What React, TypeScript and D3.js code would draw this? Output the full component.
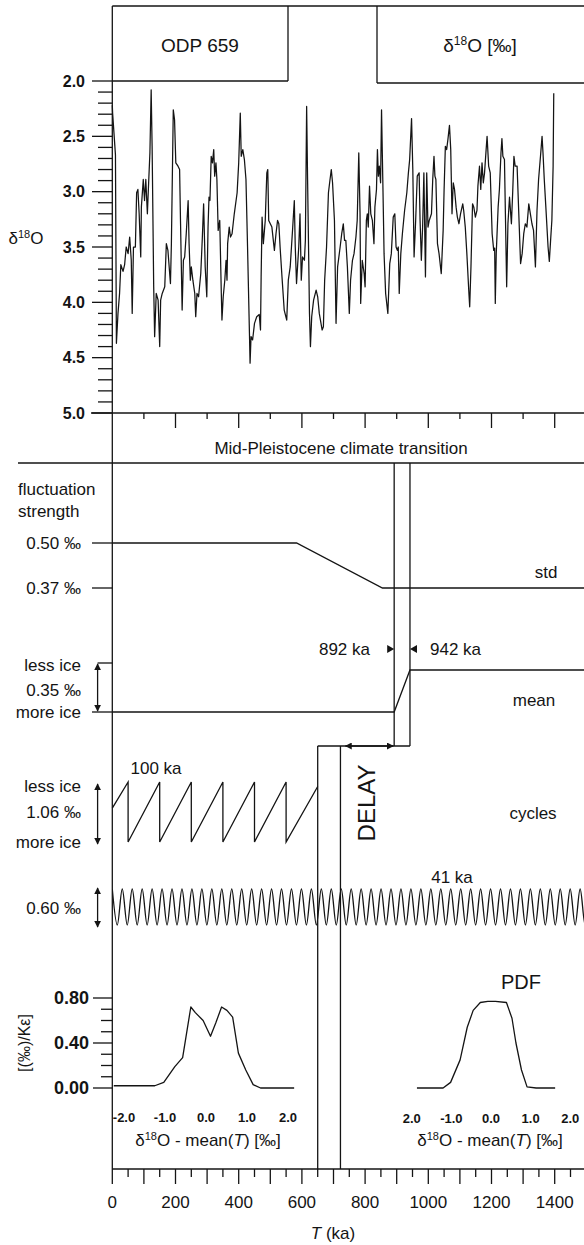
import React from "react";
import * as d3 from "d3";

const FONT = "'Liberation Sans', Arial, Helvetica, sans-serif";
const INK = "#141414";

// ---- ODP 659 δ18O record (T in ka, δ18O in ‰) ----
const ODP_T_A = [0,1,10,13,18,23,27,34,39,44,50,55,60,63,67,73,77,81,85,90,92,98,102,106,111,115,119,123,126,131,134,139,145,150,153,158,166,171,176,184,187,193,197,201,208,213,216,221,225,229,234,240,243,247,250,255,261,264,268,273,280,285,289,294,299,303,306,309,313,317,321,324,328,331,335,340,345,347,351,356,360];
const ODP_V_A = [2.22,2.29,2.67,4.37,4.10,3.92,3.66,3.72,3.66,3.50,3.56,3.41,3.62,4.10,3.50,3.50,3.01,2.98,3.20,3.59,3.14,2.89,3.08,2.89,3.20,2.92,2.65,2.08,2.59,3.86,4.31,3.92,3.98,4.40,3.98,3.92,3.86,3.47,3.53,3.83,3.47,2.26,2.35,2.74,2.77,2.80,3.29,4.07,3.62,3.59,3.38,3.08,3.47,3.80,3.68,3.80,3.92,4.13,3.92,3.95,3.74,3.41,3.11,3.68,3.95,3.32,3.05,3.08,2.68,2.74,2.62,2.86,2.74,2.89,3.35,3.26,3.92,4.16,3.95,3.80,3.62];
const ODP_T_B = [363,365,370,374,379,386,395,400,405,408,413,418,423,428,434,436,439,444,450,457,465,469,471,474,478,484,489,492,495,500,505,513,518,523,527,531,537,544,552,557,563,571,576,579,583,590,594,598,602,608,611,615,618,624,627,631,637,645,650,655,664,668,672,678,684,689,693,697,703,708,713,721,726,731,735];
const ODP_V_B = [3.80,3.47,3.32,3.41,3.38,3.20,3.01,2.74,2.29,2.68,2.62,2.71,2.89,3.50,4.28,4.55,4.31,4.34,4.19,4.13,4.11,4.25,3.77,3.23,3.47,3.26,2.83,2.80,3.26,3.29,3.32,3.53,3.38,3.26,3.29,3.50,3.77,4.07,4.16,3.80,3.68,3.32,3.08,3.50,3.83,3.50,3.20,3.80,3.59,3.62,3.44,2.23,2.89,4.10,4.40,4.13,3.98,3.89,3.95,4.10,4.25,4.22,3.80,3.50,3.01,2.89,2.80,2.92,3.26,4.19,3.68,3.50,3.38,3.29,3.44];
const ODP_T_C = [739,744,750,754,760,765,771,775,780,784,786,791,797,800,804,807,810,814,818,823,828,831,836,839,842,845,849,852,856,860,865,872,878,883,889,894,898,902,905,908,913,918,925,932,937,941,947,951,955,960,965,971,974,978,982,986,991,995,999,1003,1010,1014,1018,1021,1024,1029,1034,1041,1047,1050,1054,1058,1062,1067,1071,1075,1079,1083,1088,1092,1097,1102,1109];
const ODP_V_C = [3.44,3.68,4.10,3.80,3.62,3.56,3.41,3.26,2.65,3.20,4.01,3.62,3.74,3.86,3.26,3.20,3.32,2.95,3.20,3.26,3.47,3.14,2.98,2.62,2.86,2.77,2.92,2.26,2.89,3.56,3.92,4.10,3.65,3.56,3.23,3.20,3.50,3.53,3.50,3.92,3.56,3.38,3.17,3.01,2.83,2.71,2.34,2.80,3.59,3.26,2.86,2.83,3.26,3.62,3.32,2.83,3.77,2.83,3.32,3.26,3.20,2.89,2.68,2.86,2.89,3.47,3.56,3.74,3.35,2.98,2.59,2.62,2.53,2.40,2.62,3.20,2.92,2.98,3.14,3.23,3.29,3.20,3.11];
const ODP_T_D = [1112,1117,1122,1128,1131,1135,1140,1144,1149,1154,1157,1162,1166,1170,1174,1178,1183,1186,1191,1196,1202,1207,1210,1212,1215,1221,1225,1230,1233,1236,1241,1244,1248,1252,1257,1263,1267,1271,1275,1281,1286,1292,1297,1302,1307,1312,1318,1323,1328,1333,1339,1344,1349,1355,1360,1363,1367,1372,1379,1383,1387,1391,1395,1397];
const ODP_V_D = [3.17,3.32,3.56,3.89,4.04,3.68,3.11,3.14,3.23,3.17,2.95,2.77,2.98,2.74,2.92,2.83,2.62,2.50,2.77,2.83,3.38,3.53,3.51,4.01,3.56,3.14,2.98,2.65,2.52,2.68,2.71,3.20,3.86,3.29,3.05,3.29,3.01,2.68,2.77,2.77,3.17,3.65,3.56,3.38,3.29,3.32,3.11,3.20,3.29,3.35,3.68,3.17,2.89,2.68,2.50,2.65,2.89,3.14,3.50,3.63,3.44,3.26,2.77,2.11];

// ---- schematic components ----
const MPT_START = 892;
const MPT_END = 942;
const CYCLES_END = 650;
const CYCLES_GAP_END = 722;

const STD_T = [0, 583, 855, 1500];
const STD_V = [0.50, 0.50, 0.37, 0.37];

const MEAN_T = [0, 892, 942, 1500];
const MEAN_V = [0, 0, 0.30, 0.30];

const CYCLE_T = [0, 50, 50, 150, 150, 250, 250, 350, 350, 450, 450, 550, 550, 650];
const CYCLE_V = [0.60, 1.06, 0, 1.06, 0, 1.06, 0, 1.06, 0, 1.06, 0, 1.06, 0, 0.98];

// crest and trough positions of the drawn oscillation (ka), as they appear on the time axis
const OBL_PEAKS = [0,31.5,63,94.5,126,157.5,189,220.5,252,283.5,315,346.5,378,409.5,441,472.5,504,535.5,567,598.5,630,661.5,693,724.5,756,787.5,819,850.5,882,913.5,945,976.5,1008,1039.5,1071,1102.5,1134,1165.5,1197,1228.5,1260,1291.5,1323,1354.5,1386,1417.5,1449,1480.5,1512];
const OBL_TROUGHS = [15.75,47.25,78.75,110.25,141.75,173.25,204.75,236.25,267.75,299.25,330.75,362.25,393.75,425.25,456.75,488.25,519.75,551.25,582.75,614.25,645.75,677.25,708.75,740.25,771.75,803.25,834.75,866.25,897.75,929.25,960.75,992.25,1023.75,1055.25,1086.75,1118.25,1149.75,1181.25,1212.75,1244.25,1275.75,1307.25,1338.75,1370.25,1401.75,1433.25,1464.75,1496.25];
const OBL_AMP = 0.60;

// ---- PDFs (δ18O − mean(T) in ‰ vs density) ----
const PDF_L_X = [-2.25,-1.25,-1.03,-0.76,-0.57,-0.49,-0.37,-0.26,-0.07,0.11,0.24,0.38,0.51,0.65,0.79,0.97,1.15,1.33,2.15];
const PDF_L_P = [0.02,0.02,0.05,0.19,0.27,0.45,0.72,0.67,0.60,0.46,0.58,0.72,0.69,0.63,0.31,0.16,0.03,0,0];
const PDF_R_X = [-1.87,-1.21,-1.02,-0.78,-0.60,-0.45,-0.27,-0.08,0.11,0.39,0.53,0.63,0.77,0.91,1.14,1.62];
const PDF_R_P = [0,0,0.05,0.25,0.54,0.69,0.76,0.77,0.77,0.76,0.62,0.40,0.16,0.01,0,0];

const TOP_TICK_LABELS = ["2.0", "2.5", "3.0", "3.5", "4.0", "4.5", "5.0"];
const PDF_TICK_LABELS = ["0.00", "0.40", "0.80"];
const PDF_L_TICK_LABELS = ["-2.0", "-1.0", "0.0", "1.0", "2.0"];
const PDF_R_TICK_LABELS = ["2.0", "-1.0", "0.0", "1.0", "2.0"];
const T_TICK_LABELS = ["0", "200", "400", "600", "800", "1000", "1200", "1400"];

const Txt = ({ x, y, s = 17, a = "start", w = "normal", children, ...rest }: any) => (
  <text x={x} y={y} dy="0.35em" fontSize={s} textAnchor={a} fontWeight={w}
        fontFamily={FONT} fill={INK} {...rest}>{children}</text>
);

export default function App() {
  const x = d3.scaleLinear().domain([0, 1500]).range([112.3, 586.3]);
  const yTop = d3.scaleLinear().domain([2, 5]).range([81, 413]);
  const yStd = d3.scaleLinear().domain([0.37, 0.50]).range([588, 543]);
  const yMean = d3.scaleLinear().domain([0, 0.35]).range([712, 663]);
  const yCyc = d3.scaleLinear().domain([0, 1.06]).range([842, 782]);
  const yObl = d3.scaleLinear().domain([-0.30, 0.30]).range([925, 889]);
  const yPdf = d3.scaleLinear().domain([0, 0.8]).range([1088, 998]);
  const xPdfL = d3.scaleLinear().domain([-2, 2]).range([124, 288]);
  const xPdfR = d3.scaleLinear().domain([-2, 2]).range([411.8, 570.2]);

  const X0 = x(0);
  const lineXY = (xs: any, ys: any, curve: any = d3.curveLinear) =>
    d3.line<[number, number]>().x((d) => xs(d[0])).y((d) => ys(d[1])).curve(curve);

  const odp = [
    ...d3.zip(ODP_T_A, ODP_V_A), ...d3.zip(ODP_T_B, ODP_V_B),
    ...d3.zip(ODP_T_C, ODP_V_C), ...d3.zip(ODP_T_D, ODP_V_D),
  ] as [number, number][];

  const obl = [
    ...OBL_PEAKS.map((t) => [t, OBL_AMP / 2] as [number, number]),
    ...OBL_TROUGHS.map((t) => [t, -OBL_AMP / 2] as [number, number]),
  ].sort((a, b) => a[0] - b[0]);

  const topTicks = d3.range(0, 31);
  const topAxisTicks = d3.range(100, 1501, 100);
  const botTicks = d3.range(0, 1451, 50);
  const pdfTicks = d3.range(0, 9);

  const sw = 1.3;
  const arrowX = 97.6;
  const yDelay = 746;

  return (
    <svg width={584} height={1245} viewBox="0 0 584 1245"
         style={{ position: "absolute", left: 0, top: 0, background: "#fff" }}>
      <defs>
        <marker id="ah" viewBox="0 0 10 10" refX="9" refY="5" markerWidth="7" markerHeight="7"
                markerUnits="userSpaceOnUse" orient="auto-start-reverse">
          <path d="M0,0 L10,5 L0,10 z" fill={INK} />
        </marker>
        <clipPath id="plotClip"><rect x={X0} y={0} width={584 - X0} height={1245} /></clipPath>
      </defs>
      <rect x={0} y={0} width={584} height={1245} fill="#fff" />

      <g stroke={INK} strokeWidth={sw} fill="none">
        {/* frame */}
        <line x1={X0} y1={6} x2={X0} y2={1169} />
        <line x1={X0} y1={6} x2={584} y2={6} />
        {/* title boxes */}
        <line x1={288} y1={6} x2={288} y2={81} />
        <line x1={X0} y1={81} x2={288} y2={81} />
        <line x1={377} y1={6} x2={377} y2={83} />
        <line x1={377} y1={83} x2={584} y2={83} />
        {/* top y-axis ticks */}
        {topTicks.map((i) => (
          <line key={"yt" + i} x1={i % 5 === 0 ? 92 : 98} x2={X0}
                y1={yTop(2 + i * 0.1)} y2={yTop(2 + i * 0.1)} />
        ))}
        {/* top panel bottom line and ticks */}
        <line x1={91} y1={413} x2={584} y2={413} />
        {topAxisTicks.map((t) => (
          <line key={"tt" + t} x1={x(t)} x2={x(t)} y1={413} y2={413 + (t % 200 === 0 ? 15 : 6)} />
        ))}
        {/* δ18O record */}
        <path d={lineXY(x, yTop)(odp) || ""} strokeWidth={1.25} strokeLinejoin="round" />

        {/* MPT header line */}
        <line x1={18} y1={463} x2={584} y2={463} />
        {/* MPT column */}
        <line x1={x(MPT_START)} y1={463} x2={x(MPT_START)} y2={yDelay} />
        <line x1={x(MPT_END)} y1={463} x2={x(MPT_END)} y2={yDelay} />
        <line x1={x(CYCLES_END)} y1={yDelay} x2={x(MPT_END)} y2={yDelay} />
        <line x1={x(CYCLES_END)} y1={yDelay} x2={x(CYCLES_END)} y2={1169} />
        <line x1={x(CYCLES_GAP_END)} y1={yDelay} x2={x(CYCLES_GAP_END)} y2={1169} />

        {/* std */}
        <line x1={92} x2={X0} y1={yStd(0.5)} y2={yStd(0.5)} />
        <line x1={92} x2={X0} y1={yStd(0.37)} y2={yStd(0.37)} />
        <path d={lineXY(x, yStd)(d3.zip(STD_T, STD_V) as any) || ""} />

        {/* mean */}
        <line x1={92} x2={X0} y1={yMean(0)} y2={yMean(0)} />
        <line x1={arrowX} x2={X0} y1={yMean(0.35)} y2={yMean(0.35)} />
        <path d={lineXY(x, yMean)(d3.zip(MEAN_T, MEAN_V) as any) || ""} />
        <line x1={arrowX} x2={arrowX} y1={yMean(0.35) + 1} y2={yMean(0) - 1}
              markerStart="url(#ah)" markerEnd="url(#ah)" />

        {/* DELAY arrow */}
        <line x1={x(CYCLES_GAP_END) + 5} x2={x(MPT_START) - 1} y1={yDelay} y2={yDelay}
              markerStart="url(#ah)" markerEnd="url(#ah)" />

        {/* 100 ka cycles */}
        <path d={lineXY(x, yCyc)(d3.zip(CYCLE_T, CYCLE_V) as any) || ""} />
        <line x1={arrowX} x2={arrowX} y1={yCyc(1.06) + 2} y2={yCyc(0) + 2}
              markerStart="url(#ah)" markerEnd="url(#ah)" />

        {/* 41 ka cycles */}
        <path d={lineXY(x, yObl, d3.curveMonotoneX)(obl) || ""} clipPath="url(#plotClip)" />
        <line x1={arrowX} x2={arrowX} y1={yObl(0.3) - 1} y2={yObl(-0.3) + 2}
              markerStart="url(#ah)" markerEnd="url(#ah)" />

        {/* PDF axis ticks */}
        {pdfTicks.map((i) => (
          <line key={"pt" + i} x1={i % 4 === 0 ? 93 : 101} x2={X0}
                y1={yPdf(i * 0.1)} y2={yPdf(i * 0.1)} />
        ))}
        <path d={lineXY(xPdfL, yPdf)(d3.zip(PDF_L_X, PDF_L_P) as any) || ""} strokeLinejoin="round" />
        <path d={lineXY(xPdfR, yPdf)(d3.zip(PDF_R_X, PDF_R_P) as any) || ""} strokeLinejoin="round" />

        {/* bottom axis */}
        <line x1={X0} y1={1169} x2={584} y2={1169} />
        {botTicks.map((t) => (
          <line key={"bt" + t} x1={x(t)} x2={x(t)} y1={1169} y2={1169 + (t % 100 === 0 ? 15 : 8)} />
        ))}
      </g>

      {/* pointer triangles 892 / 942 */}
      <path d={`M${x(MPT_START) - 7},${645} L${x(MPT_START)},${649} L${x(MPT_START) - 7},${653} Z`} fill={INK} />
      <path d={`M${x(MPT_END) + 7},${645} L${x(MPT_END)},${649} L${x(MPT_END) + 7},${653} Z`} fill={INK} />

      {/* texts */}
      <Txt x={200} y={45} s={19} a="middle">ODP 659</Txt>
      <Txt x={480} y={45} s={19} a="middle">
        δ<tspan fontSize={12} dy={-7}>18</tspan><tspan dy={7}>O [‰]</tspan>
      </Txt>
      {TOP_TICK_LABELS.map((l) => (
        <Txt key={l} x={85} y={yTop(+l)} s={16} a="end" w="bold">{l}</Txt>
      ))}
      <Txt x={26} y={238} s={17} a="middle">
        δ<tspan fontSize={11} dy={-6}>18</tspan><tspan dy={6}>O</tspan>
      </Txt>

      <Txt x={341} y={448} s={17} a="middle">Mid-Pleistocene climate transition</Txt>
      <Txt x={18} y={489} s={17}>fluctuation</Txt>
      <Txt x={18} y={511} s={17}>strength</Txt>
      <Txt x={81} y={yStd(0.5)} s={17} a="end">0.50 ‰</Txt>
      <Txt x={81} y={yStd(0.37)} s={17} a="end">0.37 ‰</Txt>
      <Txt x={546} y={572} s={17} a="middle">std</Txt>

      <Txt x={370} y={649} s={17} a="end">892 ka</Txt>
      <Txt x={430} y={649} s={17}>942 ka</Txt>
      <Txt x={81} y={665} s={17} a="end">less ice</Txt>
      <Txt x={81} y={690} s={17} a="end">0.35 ‰</Txt>
      <Txt x={81} y={712} s={17} a="end">more ice</Txt>
      <Txt x={534} y={700} s={17} a="middle">mean</Txt>

      <Txt x={156} y={768} s={17} a="middle">100 ka</Txt>
      <Txt x={81} y={786} s={17} a="end">less ice</Txt>
      <Txt x={81} y={812} s={17} a="end">1.06 ‰</Txt>
      <Txt x={81} y={842} s={17} a="end">more ice</Txt>
      <Txt x={533} y={813} s={17} a="middle">cycles</Txt>
      <Txt x={0} y={0} s={24} a="middle" transform="translate(367,803) rotate(-90)">DELAY</Txt>

      <Txt x={452} y={877} s={17} a="middle">41 ka</Txt>
      <Txt x={81} y={908} s={17} a="end">0.60 ‰</Txt>

      <Txt x={521} y={982} s={20} a="middle">PDF</Txt>
      {PDF_TICK_LABELS.map((l) => (
        <Txt key={l} x={89} y={yPdf(+l)} s={18} a="end" w="bold">{l}</Txt>
      ))}
      <Txt x={0} y={0} s={16} a="middle" transform="translate(24,1043) rotate(-90)">[(‰)/Kε]</Txt>
      {PDF_L_TICK_LABELS.map((l, i) => (
        <Txt key={"l" + i} x={xPdfL(i - 2)} y={1117} s={13} a="middle" w="bold">{l}</Txt>
      ))}
      {PDF_R_TICK_LABELS.map((l, i) => (
        <Txt key={"r" + i} x={xPdfR(i - 2)} y={1118} s={13} a="middle" w="bold">{l}</Txt>
      ))}
      <Txt x={208} y={1140} s={17} a="middle">
        δ<tspan fontSize={11} dy={-6}>18</tspan><tspan dy={6}>O - mean(</tspan><tspan fontStyle="italic">T</tspan>) [‰]
      </Txt>
      <Txt x={490} y={1140} s={17} a="middle">
        δ<tspan fontSize={11} dy={-6}>18</tspan><tspan dy={6}>O - mean(</tspan><tspan fontStyle="italic">T</tspan>) [‰]
      </Txt>

      {T_TICK_LABELS.map((l) => (
        <Txt key={"x" + l} x={x(+l)} y={1202} s={17} a="middle">{l}</Txt>
      ))}
      <Txt x={333} y={1233} s={17} a="middle">
        <tspan fontStyle="italic">T</tspan> (ka)
      </Txt>
    </svg>
  );
}
